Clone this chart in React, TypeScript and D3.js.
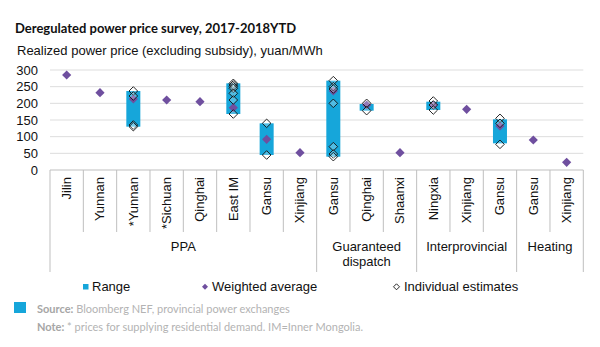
import React from "react";
import * as d3 from "d3";

const categories = ["Jilin", "Yunnan", "*Yunnan", "*Sichuan", "Qinghai", "East IM", "Gansu", "Xinjiang", "Gansu", "Qinghai", "Shaanxi", "Ningxia", "Xinjiang", "Gansu", "Gansu", "Xinjiang"];
const groupNames = [["PPA"], ["Guaranteed", "dispatch"], ["Interprovincial"], ["Heating"]];
const groupStarts = [0, 8, 11, 14];
const groupEnds = [8, 11, 14, 16];
const rangeLow: (number | null)[] = [null, null, 130, null, null, 168, 45, null, 40, 178, null, 180, null, 80, null, null];
const rangeHigh: (number | null)[] = [null, null, 237, null, null, 260, 140, null, 268, 198, null, 205, null, 152, null, null];
const weighted = [285, 232, 213, 210, 205, 187, 92, 52, 237, 195, 52, 195, 182, 132, 90, 23];
const estimates: number[][] = [
  [], [], [237, 222, 135, 130], [], [],
  [260, 255, 250, 245, 230, 210, 168],
  [140, 45], [],
  [268, 250, 243, 200, 70, 48, 40],
  [200, 178], [],
  [207, 195, 180], [],
  [155, 140, 77], [], [],
];
const yTicks = [0, 50, 100, 150, 200, 250, 300];

const BLUE = "#16A6DA";
const PURPLE = "#6F4F9F";
const AXIS = "#BFBFBF";
const GRID = "#DDDDDD";
const SANS = "'Liberation Sans', Arial, sans-serif";
const HEAD = "Lato, 'Open Sans', sans-serif";

function diamond(cx: number, cy: number, r: number) {
  return `M${cx},${cy - r}L${cx + r},${cy}L${cx},${cy + r}L${cx - r},${cy}Z`;
}

export default function App() {
  const left = 50, right = 583.3, top = 70, bottom = 170;
  const x = d3.scaleBand<number>().domain(d3.range(categories.length)).range([left, right]).padding(0);
  const y = d3.scaleLinear().domain([0, 300]).range([bottom, top]);
  const bw = x.bandwidth();
  const cx = (i: number) => (x(i) as number) + bw / 2;
  const barW = 14;
  const boundaries = new Set([0, ...groupEnds]);

  return (
    <svg width={600} height={347} style={{ position: "absolute", left: 0, top: 0, background: "#fff" }}>
      <text x={15} y={33} fontFamily={HEAD} fontWeight={700} fontSize={13} fill="#111">Deregulated power price survey, 2017-2018YTD</text>
      <text x={17} y={55} fontFamily={SANS} fontSize={13} fill="#111">Realized power price (excluding subsidy), yuan/MWh</text>

      {yTicks.map((t) => (
        <g key={t}>
          {t > 0 && <line x1={left} x2={right} y1={y(t)} y2={y(t)} stroke={GRID} strokeWidth={1} />}
          <text x={38} y={y(t)} dy="0.36em" textAnchor="end" fontFamily={SANS} fontSize={13} fill="#111">{t}</text>
        </g>
      ))}
      <line x1={left} x2={right} y1={y(0)} y2={y(0)} stroke={AXIS} strokeWidth={1} />

      {d3.range(categories.length + 1).map((i) => {
        const xx = i < categories.length ? (x(i) as number) : right;
        return <line key={"s" + i} x1={xx} x2={xx} y1={bottom} y2={boundaries.has(i) ? 272 : 232} stroke={AXIS} strokeWidth={1} />;
      })}

      {categories.map((c, i) => (
        <text key={"c" + i} transform={`translate(${cx(i) + 4.3},177) rotate(-90)`} textAnchor="end" fontFamily={SANS} fontSize={13} fill="#111">{c}</text>
      ))}

      {groupNames.map((lines, g) => {
        const gx = ((x(groupStarts[g]) as number) + (groupEnds[g] < categories.length ? (x(groupEnds[g]) as number) : right)) / 2;
        return lines.map((ln, k) => (
          <text key={"g" + g + k} x={gx} y={251 + k * 14.5} textAnchor="middle" fontFamily={SANS} fontSize={13} fill="#111">{ln}</text>
        ));
      })}

      {categories.map((_, i) =>
        rangeLow[i] != null && rangeHigh[i] != null ? (
          <rect key={"r" + i} x={cx(i) - barW / 2} width={barW} y={y(rangeHigh[i] as number)} height={y(rangeLow[i] as number) - y(rangeHigh[i] as number)} fill={BLUE} />
        ) : null
      )}

      {weighted.map((v, i) => (
        <path key={"w" + i} d={diamond(cx(i), y(v), 4.6)} fill={PURPLE} />
      ))}

      {estimates.map((arr, i) =>
        arr.map((v, k) => (
          <path key={"e" + i + "-" + k} d={diamond(cx(i), y(v), 4.3)} fill="#fff" fillOpacity={0.25} stroke="#111" strokeWidth={0.9} />
        ))
      )}

      <rect x={83} y={284} width={5.5} height={5.5} fill={BLUE} />
      <text x={92} y={290.5} fontFamily={SANS} fontSize={13} fill="#111">Range</text>
      <path d={diamond(205, 286.8, 3)} fill={PURPLE} />
      <text x={212} y={290.5} fontFamily={SANS} fontSize={13} fill="#111">Weighted average</text>
      <path d={diamond(396.5, 286.8, 3)} fill="#fff" stroke="#111" strokeWidth={0.9} />
      <text x={404} y={290.5} fontFamily={SANS} fontSize={13} fill="#111">Individual estimates</text>

      <rect x={14} y={302} width={12} height={11} fill={BLUE} />
      <text x={37} y={312.5} fontFamily={HEAD} fontSize={11} fill="#B3B3B3">
        <tspan fontWeight={700} fill="#A6A6A6">Source:</tspan> Bloomberg NEF, provincial power exchanges
      </text>
      <text x={37} y={331} fontFamily={HEAD} fontSize={11} fill="#B3B3B3">
        <tspan fontWeight={700} fill="#A6A6A6">Note:</tspan> * prices for supplying residential demand. IM=Inner Mongolia.
      </text>
    </svg>
  );
}
